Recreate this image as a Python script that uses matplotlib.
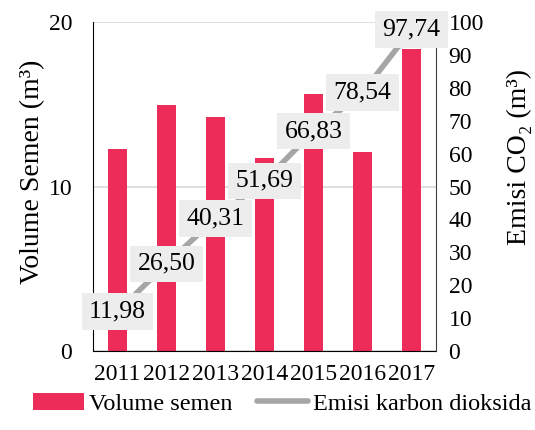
import matplotlib
matplotlib.use('Agg')
import matplotlib.pyplot as plt
from matplotlib import rc

rc('font', family=['Liberation Serif', 'DejaVu Serif'], size=17)

years = ['2011', '2012', '2013', '2014', '2015', '2016', '2017']
volume = [12.3, 14.95, 14.2, 11.75, 15.6, 12.1, 18.35]
emisi = [11.98, 26.50, 40.31, 51.69, 66.83, 78.54, 97.74]
emisi_labels = ['11,98', '26,50', '40,31', '51,69', '66,83', '78,54', '97,74']

red = '#ED2C59'
grey = '#A6A6A6'

fig = plt.figure(figsize=(5.35, 4.30), dpi=100)
ax = fig.add_axes([0.1738, 0.1837, 0.6412, 0.7651])
ax2 = ax.twinx()

x = list(range(len(years)))
ax.bar(x, volume, width=0.4, color=red, zorder=2, label='Volume semen')
ax.set_ylim(0, 20)
ax.set_yticks([0, 10, 20])
ax.set_xlim(-0.5, 6.5)
ax.set_xticks(x)
ax.set_xticklabels(years)
ax.grid(axis='y', color='#D9D9D9', linewidth=1.2, zorder=0)
ax.set_axisbelow(True)
ax.tick_params(length=0, pad=9)
ax.tick_params(axis='y', pad=15)
ax.set_ylabel('Volume Semen (m³)', fontsize=20)
ax.yaxis.set_label_coords(-0.14, 0.545)

for s in ['top', 'right']:
    ax.spines[s].set_visible(False)

ax2.plot(x, emisi, color=grey, linewidth=4, solid_capstyle='round', label='Emisi karbon dioksida', zorder=3)
ax2.set_ylim(0, 100)
ax2.set_yticks(range(0, 101, 10))
ax2.tick_params(length=0, pad=9)
ax2.set_ylabel('Emisi CO₂ (m³)', fontsize=20)
ax2.yaxis.set_label_coords(1.205, 0.59)
for s in ['top', 'left', 'bottom']:
    ax2.spines[s].set_visible(False)
ax2.spines['right'].set_color('#404040')

for xi, yi, lab in zip(x, emisi, emisi_labels):
    ax2.text(xi, yi, lab, ha='center', va='center', fontsize=18.5, zorder=5,
             bbox=dict(boxstyle='square,pad=0.28', facecolor='#EDEDED', edgecolor='none'))

h1, l1 = ax.get_legend_handles_labels()
h2, l2 = ax2.get_legend_handles_labels()
fig.legend(h1 + h2, l1 + l2, loc='lower center', bbox_to_anchor=(0.527, -0.015), ncol=2,
           frameon=False, fontsize=17.5, handlelength=2.1, handletextpad=0.2, columnspacing=1.0)

fig.savefig('out.png', dpi=100)
